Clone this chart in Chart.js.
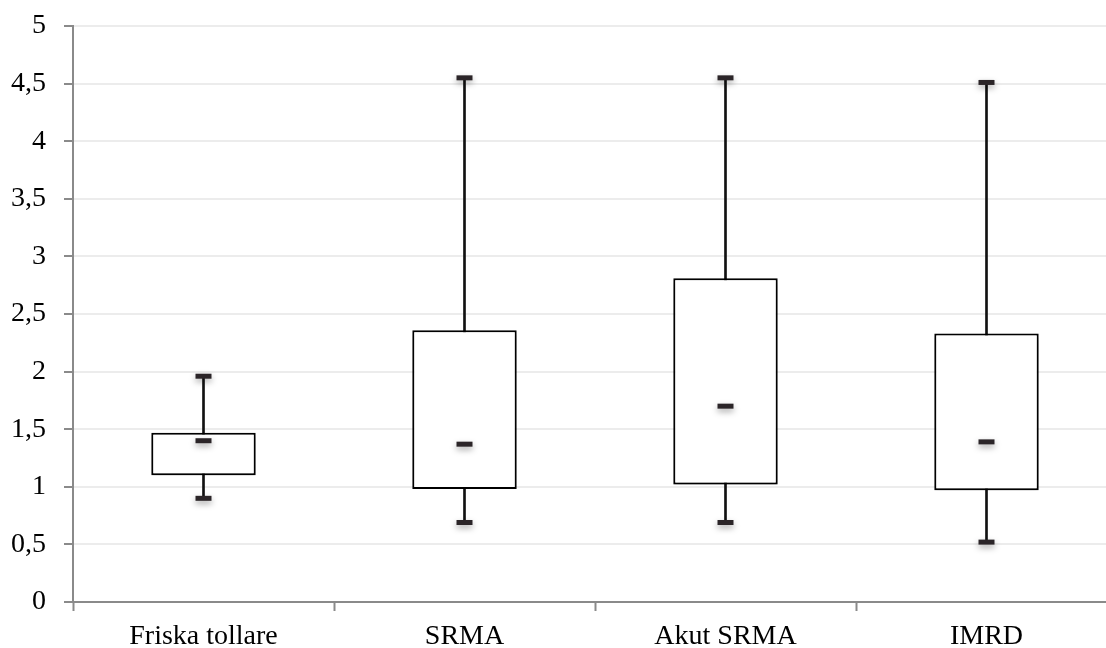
<!DOCTYPE html>
<html>
<head>
<meta charset="utf-8">
<script src="https://cdn.jsdelivr.net/npm/chart.js@4.4.1/dist/chart.umd.min.js"></script>
<style>
  html, body { margin: 0; padding: 0; background: #fff; overflow: hidden; }
  #wrap { width: 1130px; height: 648px; }
</style>
</head>
<body>
<div id="wrap"><canvas id="boxChart"></canvas></div>
<script>
// Kategorier och värden
const categories = ['Friska tollare', 'SRMA', 'Akut SRMA', 'IMRD'];
const minVals    = [0.90, 0.69, 0.69, 0.52];
const q1Vals     = [1.10, 0.98, 1.02, 0.97];
const medianVals = [1.40, 1.37, 1.70, 1.39];
const q3Vals     = [1.47, 2.36, 2.81, 2.33];
const maxVals    = [1.96, 4.55, 4.55, 4.51];
const yTickLabels = ['0', '0,5', '1', '1,5', '2', '2,5', '3', '3,5', '4', '4,5', '5'];

const serif = "'Liberation Serif', 'DejaVu Serif', serif";

// skugga under lådor och markeringar
const shadowPlugin = {
    id: 'shadow',
    beforeDatasetDraw(chart, args) {
        const ds = chart.data.datasets[args.index];
        if (!ds.shadow) return;
        const ctx = chart.ctx;
        ctx.save();
        ctx.shadowColor = 'rgba(0,0,0,0.35)';
        ctx.shadowBlur = 6;
        ctx.shadowOffsetY = 3;
    },
    afterDatasetDraw(chart, args) {
        const ds = chart.data.datasets[args.index];
        if (!ds.shadow) return;
        chart.ctx.restore();
    }
};

const markStyle = {
    type: 'line',
    showLine: false,
    pointStyle: 'line',
    pointRadius: 8,
    pointHoverRadius: 8,
    pointBorderWidth: 5,
    borderColor: '#2b2528',
    backgroundColor: '#2b2528',
    shadow: true
};

const ctx = document.getElementById('boxChart').getContext('2d');
new Chart(ctx, {
    type: 'bar',
    data: {
        labels: categories,
        datasets: [
            { label: 'Median', data: medianVals, order: 0, ...markStyle },
            { label: 'Max', data: maxVals, order: 0, ...markStyle },
            { label: 'Min', data: minVals, order: 0, ...markStyle },
            {
                label: 'Låda',
                data: categories.map((c, i) => [q1Vals[i], q3Vals[i]]),
                backgroundColor: '#ffffff',
                borderColor: '#000000',
                borderWidth: 2,
                borderSkipped: false,
                barPercentage: 0.4,
                categoryPercentage: 1,
                grouped: false,
                order: 1,
                shadow: true
            },
            {
                label: 'Morrhår',
                data: categories.map((c, i) => [minVals[i], maxVals[i]]),
                backgroundColor: '#111111',
                borderWidth: 0,
                barThickness: 2,
                grouped: false,
                order: 2
            }
        ]
    },
    options: {
        responsive: true,
        maintainAspectRatio: false,
        animation: false,
        layout: { padding: { top: 26, right: 0, left: 0, bottom: 0 } },
        plugins: {
            legend: { display: false },
            tooltip: { enabled: false }
        },
        scales: {
            x: {
                offset: true,
                grid: {
                    offset: true,
                    drawOnChartArea: false,
                    tickLength: 9,
                    tickColor: '#8a8a8a',
                    tickWidth: 2
                },
                border: { color: '#8a8a8a', width: 2 },
                ticks: {
                    color: '#000',
                    padding: 9,
                    font: { family: serif, size: 28 }
                },
                afterFit(scale) { scale.height = 46; }
            },
            y: {
                min: 0,
                max: 5,
                ticks: {
                    stepSize: 0.5,
                    color: '#000',
                    padding: 18,
                    font: { family: serif, size: 28 },
                    callback: (v, i) => yTickLabels[i]
                },
                grid: {
                    color: '#ececec',
                    lineWidth: 2,
                    tickLength: 9,
                    tickColor: '#8a8a8a',
                    tickWidth: 2
                },
                border: { color: '#8a8a8a', width: 2 },
                afterFit(scale) {
                    scale.width = 73;
                    scale.paddingTop = 0;
                    scale.paddingBottom = 0;
                }
            }
        }
    },
    plugins: [shadowPlugin]
});
</script>
</body>
</html>
